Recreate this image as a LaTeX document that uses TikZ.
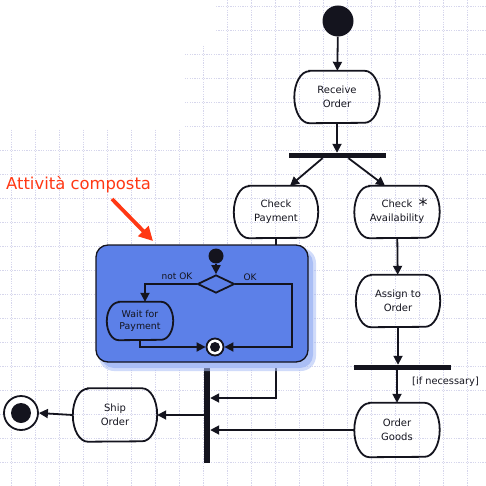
\documentclass[tikz,border=0pt]{standalone}
\usepackage{fontspec}
\setmainfont{DejaVu Sans}
\usetikzlibrary{arrows.meta,shapes.misc,shapes.geometric,calc}
\definecolor{gridc}{RGB}{214,214,236}
\definecolor{compblue}{RGB}{92,128,232}
\definecolor{shadblue}{RGB}{170,190,245}
\definecolor{redlbl}{RGB}{255,56,20}
\definecolor{inkc}{RGB}{20,20,30}
\tikzset{
  gridline/.style={draw=gridc, line width=0.7pt, dash pattern=on 1.2pt off 1.2pt},
  act/.style={rectangle, minimum width=85pt, minimum height=52pt, align=center, inner sep=0pt,
    font=\fontsize{10}{14}\selectfont, text=inkc},
  smallact/.style={act, minimum width=66pt, minimum height=38pt, font=\fontsize{9.4}{12.5}\selectfont},
  outline/.style={draw=inkc, line width=1.8pt},
  arr/.style={draw=inkc, line width=1.8pt, -{Triangle[length=9pt,width=9pt]}},
  bar/.style={fill=inkc, inner sep=0pt, draw=none},
  lbl/.style={font=\fontsize{9}{11}\selectfont, text=inkc, inner sep=0pt},
}
% #1 node name, #2 horizontal bulge, #3 half height
\newcommand{\stadiumoutline}[3]{%
  \draw[outline] ($(#1.north west)+(#2,0)$) -- ($(#1.north east)+(-#2,0)$)
    arc[start angle=-90, end angle=90, x radius=#2, y radius=#3]
    -- ($(#1.south west)+(#2,0)$)
    arc[start angle=90, end angle=270, x radius=#2, y radius=#3] -- cycle;}
\begin{document}
\begin{tikzpicture}[x=1pt,y=-1pt]
\useasboundingbox (0,0) rectangle (486,486);
% background grid
\foreach \x in {11,35,...,491} \draw[gridline] (\x,0) -- (\x,486);
\foreach \y in {6,30,...,486} \draw[gridline] (0,\y) -- (486,\y);
\fill[white] (0,0) -- (216,0) -- (216,46) -- (184,46) -- (184,128) -- (0,128) -- cycle;

% main flow nodes
\node[circle, fill=inkc, minimum size=31pt, inner sep=0pt] (init) at (338,21) {};
\node[act] (ro) at (337,97) {Receive\\Order};
\stadiumoutline{ro}{15}{26}
\node[bar, minimum width=97pt, minimum height=5pt] (fork1) at (337.5,155.5) {};
\node[act, minimum width=84pt] (cp) at (276,212) {Check\\Payment};
\stadiumoutline{cp}{15}{26}
\node[act] (ca) at (397,212) {Check\\Availability};
\stadiumoutline{ca}{15}{26}
\node[font=\fontsize{18}{18}\selectfont, text=inkc, inner sep=0pt, anchor=base] (star) at (423,211) {*};
\node[act, minimum width=84pt] (ao) at (398,301) {Assign to\\Order};
\stadiumoutline{ao}{15}{26}
\node[bar, minimum width=97pt, minimum height=5pt] (fork2) at (402.5,367.5) {};
\node[act, minimum height=54pt] (og) at (397,430) {Order\\Goods};
\stadiumoutline{og}{15}{27}
\node[bar, minimum width=6pt, minimum height=98pt] (join) at (207,414) {};
\node[act, minimum width=84pt, minimum height=53pt] (so) at (115,415) {Ship\\Order};
\stadiumoutline{so}{15}{26.5}
\node[circle, draw=inkc, line width=1.8pt, fill=white, minimum size=34pt, inner sep=0pt] (fin) at (21,413) {};
\node[circle, fill=inkc, minimum size=20pt, inner sep=0pt] at (fin) {};

% connectors main
\draw[arr] (init) -- (ro);
\draw[arr] (ro.south) -- (ro.south |- fork1.north);
\draw[arr] ($(fork1.south)+(-15,0)$) -- ($(cp.north)+(14,0)$);
\draw[arr] ($(fork1.south)+(11,0)$) -- ($(ca.north)+(-12,0)$);
\coordinate (cpturn) at (276,398);
\draw[arr] (cp.south) -- (cpturn) -- (cpturn -| join.east);
\draw[arr] (ca) -- (ao);
\draw[arr] (ao.south) -- (ao.south |- fork2.north);
\draw[arr] (fork2.south -| og.north) -- (og.north);
\node[lbl, font=\fontsize{9.8}{12}\selectfont, anchor=west] (ifn) at (412,382) {[if necessary]};
\draw[arr] (og.west) -- (og.west -| join.east);
\draw[arr] (join.west |- so.east) -- (so.east);
\draw[arr] (so.west) -- (fin.east);

% composite activity
\fill[shadblue, opacity=0.55, rounded corners=15] (99,248) rectangle (316,371);
\fill[shadblue, rounded corners=13] (101,250) rectangle (313,368);
\draw[fill=compblue, draw=inkc, line width=1.3pt, rounded corners=12] (96,245) rectangle (308,362);

\node[circle, fill=inkc, minimum size=15pt, inner sep=0pt] (init2) at (216,256) {};
\node[diamond, draw=inkc, line width=1.8pt, fill=compblue, minimum width=37pt, minimum height=18pt, inner sep=0pt] (dia) at (216,284) {};
\node[smallact] (wp) at (140,321) {Wait for\\Payment};
\stadiumoutline{wp}{12}{19}
\node[circle, draw=inkc, line width=1.8pt, fill=white, minimum size=17pt, inner sep=0pt] (fin2) at (215,347) {};
\node[circle, fill=inkc, minimum size=10pt, inner sep=0pt] at (fin2) {};

\draw[arr] (init2) -- (dia.north);
\draw[arr] (dia.west) -| ($(wp.north)+(5,0)$);
\draw[arr] (wp.south) |- (fin2.west);
\coordinate (okturn) at (292,284);
\draw[arr] (dia.east) -- (okturn) |- (fin2.east);
\node[lbl] (nok) at (177,276) {not OK};
\node[lbl] (ok) at (250,277) {OK};

% red annotation
\node[font=\fontsize{16.4}{18}\selectfont, text=redlbl, anchor=west, inner sep=0pt] (att) at (6,185) {Attività composta};
\coordinate (redtip) at (153,241);
\draw[draw=redlbl, line width=3.8pt, -{Triangle[length=14pt,width=14pt]}] (112,199) -- (redtip);
\end{tikzpicture}
\end{document}
